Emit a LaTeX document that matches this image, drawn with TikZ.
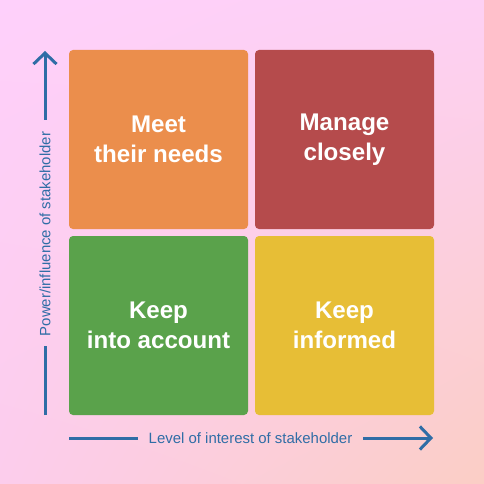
\documentclass[tikz,border=0pt]{standalone}
\usepackage{fontspec}
\setmainfont{Liberation Sans}
\usetikzlibrary{arrows.meta,shadings}
\definecolor{bgTL}{HTML}{FED0FB}
\definecolor{bgTR}{HTML}{FDD0F4}
\definecolor{bgBL}{HTML}{FCCDEC}
\definecolor{bgBR}{HTML}{FBCEC5}
\definecolor{cOrange}{HTML}{EB8E4C}
\definecolor{cRed}{HTML}{B54B4C}
\definecolor{cGreen}{HTML}{5AA24B}
\definecolor{cYellow}{HTML}{E7BE36}
\definecolor{cAxis}{HTML}{2F6DA6}
\tikzset{
  quad/.style={rounded corners=4bp, minimum width=179bp, minimum height=179bp, inner sep=0pt, outer sep=0pt, text=white, align=center, font=\bfseries\fontsize{24.2}{30.6}\selectfont, anchor=north west},
  axislbl/.style={text=cAxis, font=\fontsize{15}{18}\selectfont, inner sep=0pt},
  axisline/.style={draw=cAxis, line width=3bp},
  axisarrow/.style={axisline, -{Straight Barb[length=11bp, width=23bp, line width=3bp]}}
}
\begin{document}
\begin{tikzpicture}[x=1bp,y=-1bp]
\useasboundingbox (0,0) rectangle (484,484);
\shade[upper left=bgTL, upper right=bgTR, lower left=bgBL, lower right=bgBR] (0,0) rectangle (484,484);
\node[quad, fill=cOrange] (meet) at (69,50) {Meet\\their needs};
\node[quad, fill=cRed] (manage) at (255,50) {Manage\\closely};
\node[quad, fill=cGreen] (account) at (69,236) {Keep\\into account};
\node[quad, fill=cYellow] (informed) at (255,236) {Keep\\informed};
% vertical axis
\coordinate (vbot) at (45,415);
\coordinate (vtop) at (45,51);
\node[axislbl, rotate=90] (vlbl) at (45,234) {Power/influence of stakeholder};
\draw[axisline] (vbot) -- ([yshift=-10bp]vlbl.west);
\draw[axisarrow] ([yshift=12bp]vlbl.east) -- (vtop);
% horizontal axis
\coordinate (hleft) at (69,438);
\coordinate (hright) at (433,438);
\node[axislbl] (hlbl) at (250.5,438) {Level of interest of stakeholder};
\draw[axisline] (hleft) -- ([xshift=-11bp]hlbl.west);
\draw[axisarrow] ([xshift=11bp]hlbl.east) -- (hright);
\end{tikzpicture}
\end{document}
